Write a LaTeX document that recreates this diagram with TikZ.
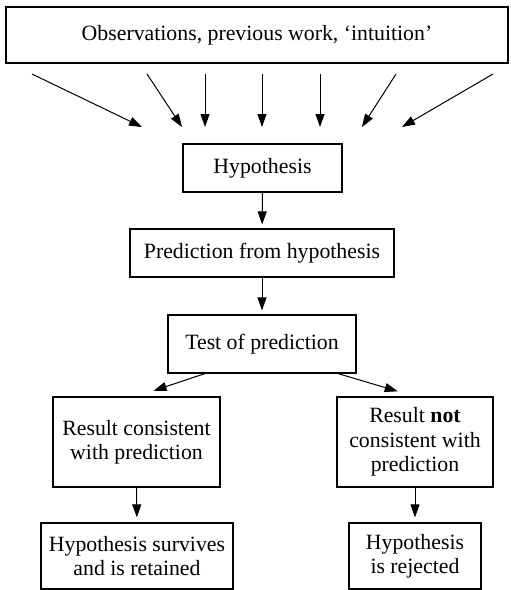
\documentclass[tikz,border=0pt]{standalone}
\usepackage{fontspec}
\setmainfont{Liberation Serif}
\usetikzlibrary{arrows.meta}

\begin{document}
\begin{tikzpicture}[x=0.5pt,y=-0.5pt,
  box/.style={draw,line width=0.6pt,align=center,inner sep=0pt,font=\fontsize{10.9}{12.2}\selectfont},
  arr/.style={line width=0.5pt,-{Triangle[length=6.5pt,width=4.5pt]}}]
\useasboundingbox (0,0) rectangle (510,590);

\node[box,minimum width=251pt,minimum height=28pt] (obs) at (257,35) {Observations, previous work, `intuition'};
\node[box,minimum width=79.5pt,minimum height=24pt] (hyp) at (262.5,168) {Hypothesis};
\node[box,minimum width=132pt,minimum height=24pt] (pred) at (262,253) {Prediction from hypothesis};
\node[box,minimum width=94pt,minimum height=29pt] (test) at (262,344) {Test of prediction};
\node[box,minimum width=83.5pt,minimum height=45pt] (cons) at (136.5,442) {Result consistent\\with prediction};
\node[box,minimum width=78pt,minimum height=45pt] (notc) at (415,442) {Result \textbf{not}\\consistent with\\prediction};
\node[box,minimum width=96pt,minimum height=33pt] (keep) at (137,556) {Hypothesis survives\\and is retained};
\node[box,minimum width=66pt,minimum height=33pt] (rej) at (415,556) {Hypothesis\\is rejected};

\foreach \i/\a/\b in {1/32/142,2/147/182,3/205/205,4/262/262,5/320/320,6/396/362,7/493/402}{
  \coordinate (s\i) at (\a,74);
  \coordinate (e\i) at (\b,127);
  \draw[arr] (s\i) -- (e\i);
}

\draw[arr,shorten >=2pt] (hyp) -- (pred);
\draw[arr,shorten >=2pt] (pred) -- (test);
\draw[arr,shorten >=9pt] ([xshift=-28.5pt]test.south) -- (cons.north);
\draw[arr,shorten >=9pt] ([xshift=38pt]test.south) -- (notc.north);
\draw[arr,shorten >=2.5pt] (cons.south) -- (keep.north);
\draw[arr,shorten >=2.5pt] (notc.south) -- (rej.north);

\end{tikzpicture}
\end{document}
